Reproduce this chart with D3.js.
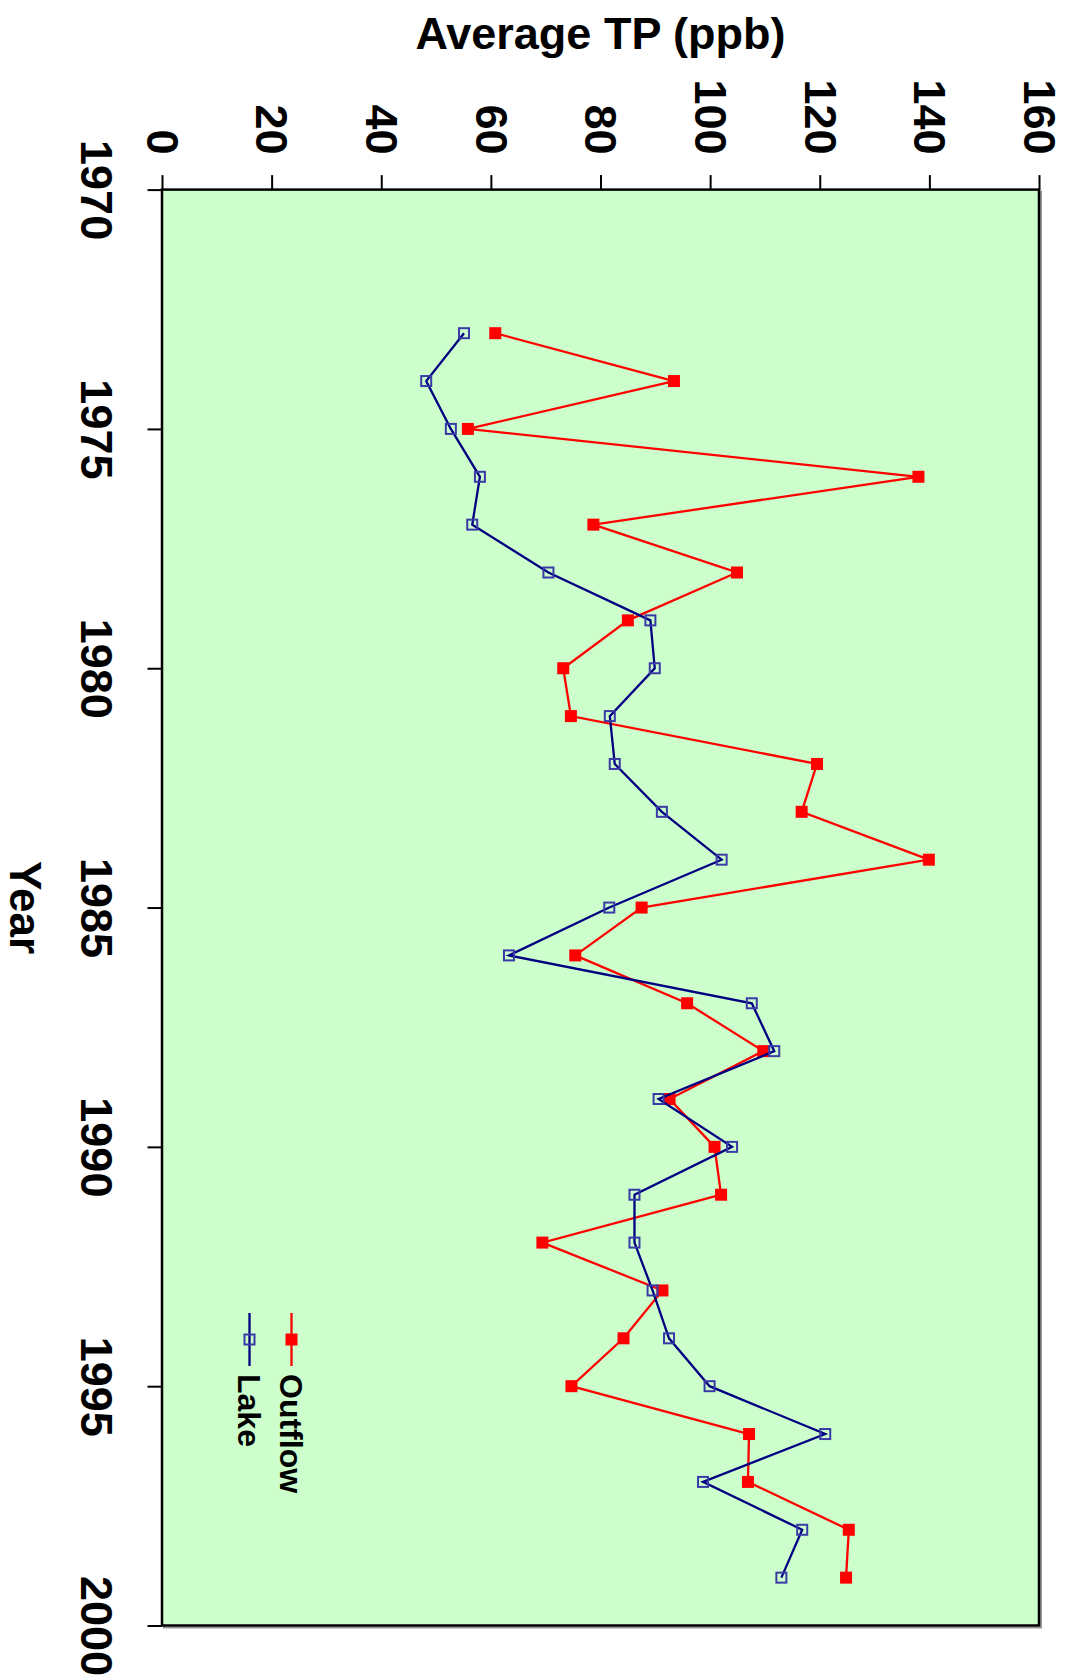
<!DOCTYPE html>
<html>
<head>
<meta charset="utf-8">
<script src="https://cdn.jsdelivr.net/npm/d3@7"></script>
<style>
  body { margin: 0; background: #fff; }
  svg { display: block; font-family: "Liberation Sans", Arial, sans-serif; font-weight: bold; }
</style>
</head>
<body>
<svg id="chart" width="1070" height="1680"></svg>
<script>
const years = [1973, 1974, 1975, 1976, 1977, 1978, 1979, 1980, 1981, 1982, 1983, 1984, 1985, 1986,
  1987, 1988, 1989, 1990, 1991, 1992, 1993, 1994, 1995, 1996, 1997, 1998, 1999];
const outflow = [60.8, 93.4, 55.8, 138.0, 78.7, 104.9, 85.0, 73.2, 74.6, 119.5, 116.7, 139.9, 87.5, 75.4,
  95.8, 109.7, 92.6, 100.8, 102.0, 69.4, 91.3, 84.2, 74.7, 107.1, 106.9, 125.3, 124.8];
const lake = [55.1, 48.2, 52.7, 58.0, 56.6, 70.5, 89.1, 89.9, 81.7, 82.6, 91.2, 102.1, 81.6, 63.3,
  107.6, 111.7, 90.6, 104.0, 86.2, 86.2, 89.5, 92.5, 99.9, 121.0, 98.7, 116.8, 113.0];
const valueTicks = [0, 20, 40, 60, 80, 100, 120, 140, 160];
const yearTicks = [1970, 1975, 1980, 1985, 1990, 1995, 2000];

const svg = d3.select('#chart');
const plot = { left: 162, right: 1039, top: 189.6, bottom: 1625.5 };

// values run left -> right, years run top -> bottom
const x = d3.scaleLinear().domain([0, 160]).range([plot.left, plot.right]);
const y = d3.scaleLinear().domain([1970, 2000]).range([plot.top, plot.bottom]);

// frame with a little shadow
svg.append('rect')
  .attr('x', plot.left + 2).attr('y', plot.top + 2)
  .attr('width', plot.right - plot.left).attr('height', plot.bottom - plot.top)
  .attr('fill', 'none').attr('stroke', '#999').attr('stroke-width', 2);
svg.append('rect')
  .attr('x', plot.left).attr('y', plot.top)
  .attr('width', plot.right - plot.left).attr('height', plot.bottom - plot.top)
  .attr('fill', '#ccffcc').attr('stroke', '#000').attr('stroke-width', 2.5);

// value axis along the top
const valueAxis = svg.append('g')
  .attr('transform', `translate(0,${plot.top})`)
  .call(d3.axisTop(x).tickValues(valueTicks).tickSize(14.5).tickFormat(d3.format('d')));
valueAxis.select('.domain').remove();
valueAxis.selectAll('.tick line').attr('stroke-width', 2);
valueAxis.selectAll('.tick text')
  .attr('x', 0).attr('y', 0).attr('dy', '0.35em')
  .attr('text-anchor', 'end')
  .attr('transform', 'translate(0,-35) rotate(90)')
  .attr('font-size', 45).attr('fill', '#000');

// year axis along the left
const yearAxis = svg.append('g')
  .attr('transform', `translate(${plot.left},0)`)
  .call(d3.axisLeft(y).tickValues(yearTicks).tickSize(14.5).tickFormat(d3.format('d')));
yearAxis.select('.domain').remove();
yearAxis.selectAll('.tick line').attr('stroke-width', 2);
yearAxis.selectAll('.tick text')
  .attr('x', 0).attr('y', 0).attr('dy', 0)
  .attr('text-anchor', 'middle')
  .attr('transform', 'translate(-81,0) rotate(90)')
  .attr('font-size', 45).attr('fill', '#000');

// axis titles
svg.append('text')
  .attr('x', (plot.left + plot.right) / 2).attr('y', 49)
  .attr('text-anchor', 'middle').attr('font-size', 45)
  .text('Average TP (ppb)');
svg.append('text')
  .attr('transform', `translate(10,${(plot.top + plot.bottom) / 2}) rotate(90)`)
  .attr('text-anchor', 'middle').attr('font-size', 44)
  .text('Year');

// series
const series = [
  { name: 'Outflow', values: outflow, line: '#ff0000', filled: true },
  { name: 'Lake', values: lake, line: '#000080', filled: false }
];

const line = d3.line().x(d => x(d[1])).y(d => y(d[0]));

function marker(g, filled) {
  if (filled) {
    g.append('rect').attr('x', -6).attr('y', -6).attr('width', 12).attr('height', 12)
      .attr('fill', '#ff0000');
  } else {
    g.append('rect').attr('x', -5).attr('y', -5).attr('width', 10).attr('height', 10)
      .attr('fill', 'none').attr('stroke', '#3a3aa6').attr('stroke-width', 2);
  }
}

for (let s of series) {
  const pts = years.map((yr, i) => [yr, s.values[i]]);
  svg.append('path')
    .attr('d', line(pts))
    .attr('fill', 'none').attr('stroke', s.line).attr('stroke-width', 2.3);
  svg.append('g').selectAll('g').data(pts).join('g')
    .attr('transform', d => `translate(${x(d[1])},${y(d[0])})`)
    .each(function () { marker(d3.select(this), s.filled); });
}

// legend
const legend = [
  { s: series[0], cx: 291.5 },
  { s: series[1], cx: 249.5 }
];
for (let l of legend) {
  svg.append('line')
    .attr('x1', l.cx).attr('x2', l.cx).attr('y1', 1313).attr('y2', 1366)
    .attr('stroke', l.s.line).attr('stroke-width', 2.3);
  const g = svg.append('g').attr('transform', `translate(${l.cx},1339.5)`);
  marker(g, l.s.filled);
  svg.append('text')
    .attr('transform', `translate(${l.cx},1374) rotate(90)`)
    .attr('dy', '0.35em').attr('font-size', 32)
    .text(l.s.name);
}
</script>
</body>
</html>
